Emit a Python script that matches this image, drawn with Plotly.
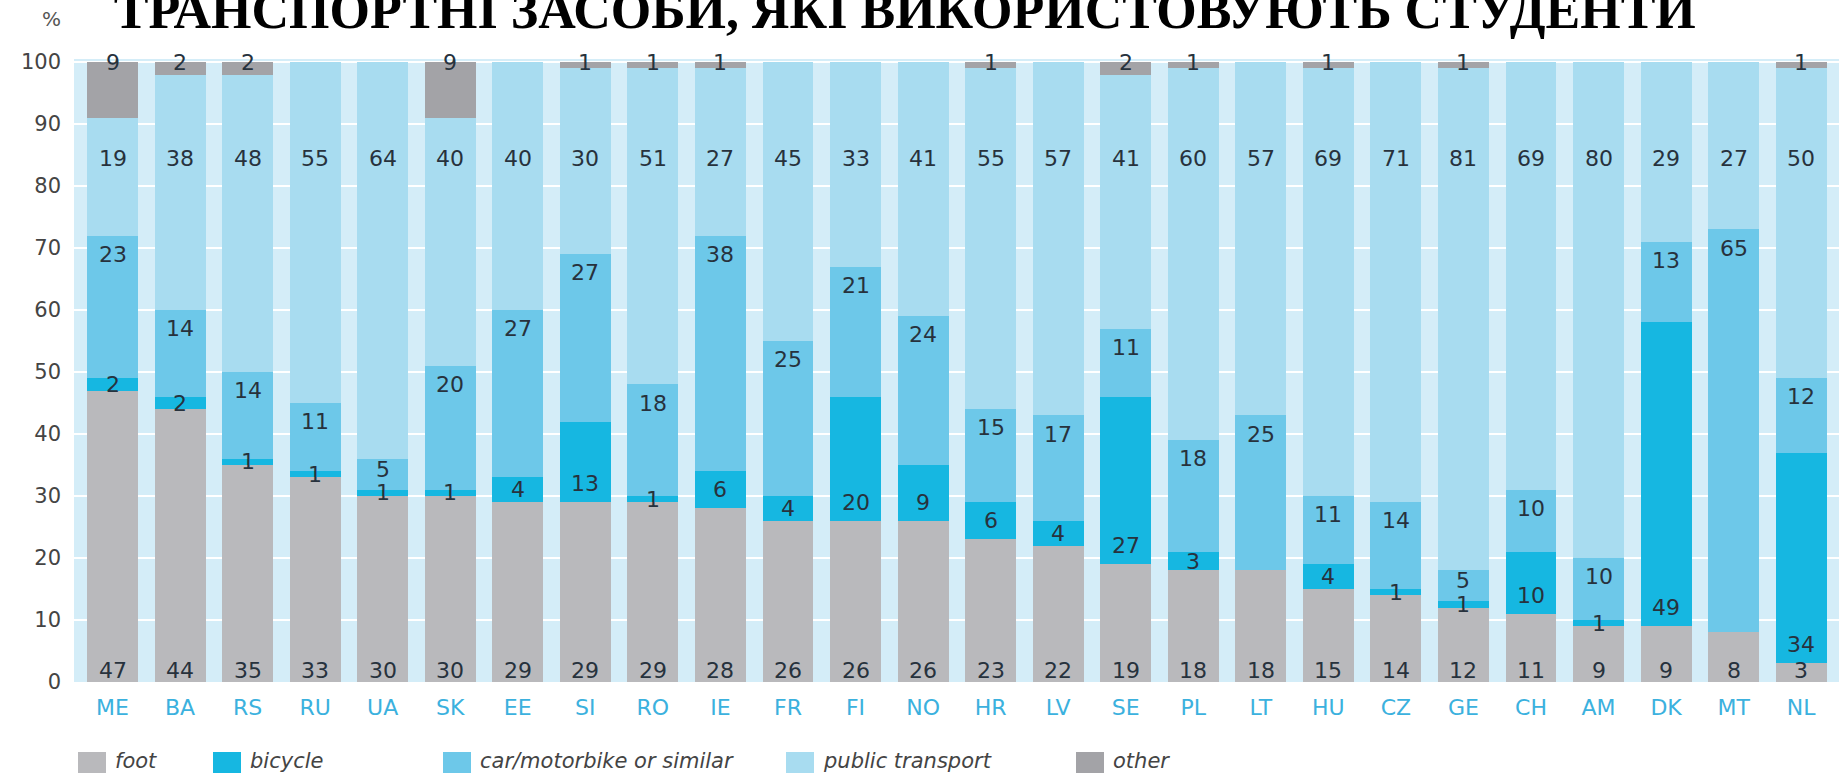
import plotly.graph_objects as go

countries = ["ME", "BA", "RS", "RU", "UA", "SK", "EE", "SI", "RO", "IE", "FR", "FI", "NO",
             "HR", "LV", "SE", "PL", "LT", "HU", "CZ", "GE", "CH", "AM", "DK", "MT", "NL"]
foot = [47, 44, 35, 33, 30, 30, 29, 29, 29, 28, 26, 26, 26, 23, 22, 19, 18, 18, 15, 14, 12, 11, 9, 9, 8, 3]
bicycle = [2, 2, 1, 1, 1, 1, 4, 13, 1, 6, 4, 20, 9, 6, 4, 27, 3, 0, 4, 1, 1, 10, 1, 49, 0, 34]
car = [23, 14, 14, 11, 5, 20, 27, 27, 18, 38, 25, 21, 24, 15, 17, 11, 18, 25, 11, 14, 5, 10, 10, 13, 65, 12]
public = [19, 38, 48, 55, 64, 40, 40, 30, 51, 27, 45, 33, 41, 55, 57, 41, 60, 57, 69, 71, 81, 69, 80, 29, 27, 50]
other = [9, 2, 2, 0, 0, 9, 0, 1, 1, 1, 0, 0, 0, 1, 0, 2, 1, 0, 1, 0, 1, 0, 0, 0, 0, 1]

series_names = ["foot", "bicycle", "car/motorbike or similar", "public transport", "other"]
y_ticks = [0, 10, 20, 30, 40, 50, 60, 70, 80, 90, 100]
title_text = "ТРАНСПОРТНІ ЗАСОБИ, ЯКІ ВИКОРИСТОВУЮТЬ СТУДЕНТИ"

colors = ["#b9b9bc", "#16b7e1", "#6dc8e9", "#a8dcf0", "#a3a3a7"]
BG = "#d4edf8"
LABEL_COLOR = "#27323d"
SANS = "DejaVu Sans, Liberation Sans, sans-serif"

W, H = 1839, 776
PL, PR, PT, PB = 74, 1839, 59, 682

def px_to_paper_x(px):
    return (px - PL) / (PR - PL)

def px_to_paper_y(py):
    return (PB - py) / (PB - PT)

fig = go.Figure()
for name, vals, col in zip(series_names, [foot, bicycle, car, public, other], colors):
    fig.add_trace(go.Bar(x=countries, y=vals, name=name, marker=dict(color=col, line=dict(width=0)),
                         showlegend=False))

annotations = []
lab_font = dict(family=SANS, size=22, color=LABEL_COLOR)

def add_label(x, y, v):
    annotations.append(dict(x=x, y=y, xref="x", yref="y", text=str(v), showarrow=False,
                            font=lab_font, xanchor="center", yanchor="middle"))

for i, c in enumerate(countries):
    f, b, ca, p, o = foot[i], bicycle[i], car[i], public[i], other[i]
    add_label(c, 1.9, f)
    if b > 0:
        add_label(c, f + min(b / 2.0, 3.0), b)
    if ca > 0:
        top = f + b + ca
        add_label(c, top - (3.0 if ca >= 8 else 1.7), ca)
    if p > 0:
        add_label(c, 84.5, p)
    if o > 0:
        add_label(c, 100, o)

# "%" unit label
annotations.append(dict(x=px_to_paper_x(51), y=px_to_paper_y(19), xref="paper", yref="paper",
                        text="%", showarrow=False, xanchor="center", yanchor="middle",
                        font=dict(family=SANS, size=20, color="#555555")))

# legend (drawn manually to get the large swatches)
shapes = []
leg_x = [78, 213, 443, 786, 1076]
for name, col, lx in zip(series_names, colors, leg_x):
    shapes.append(dict(type="rect", xref="paper", yref="paper",
                       x0=px_to_paper_x(lx), x1=px_to_paper_x(lx + 28),
                       y0=px_to_paper_y(773), y1=px_to_paper_y(752),
                       fillcolor=col, line=dict(width=0)))
    annotations.append(dict(x=px_to_paper_x(lx + 35), y=px_to_paper_y(761), xref="paper", yref="paper",
                            text="<i>" + name + "</i>", showarrow=False, xanchor="left", yanchor="middle",
                            font=dict(family=SANS, size=21, color="#444444")))

fig.update_layout(
    width=W, height=H,
    margin=dict(l=PL, r=W - PR, t=PT, b=H - PB, pad=0),
    barmode="stack", bargap=0.246,
    plot_bgcolor=BG, paper_bgcolor="white",
    title=dict(text="<b>" + title_text + "</b>", x=0.492, xanchor="center", xref="container",
               y=1 - 28 / H, yref="container", yanchor="bottom",
               font=dict(family="Liberation Serif, Times New Roman, serif", size=52, color="black")),
    annotations=annotations, shapes=shapes,
    xaxis=dict(type="category", range=[-0.57, 25.56], showgrid=False, zeroline=False,
               tickfont=dict(family=SANS, size=22, color="#3bb1de"), ticks="", ticklabelstandoff=10),
    yaxis=dict(range=[0, 100.5], tickvals=y_ticks, showgrid=True, gridcolor="white", gridwidth=2,
               zeroline=False, tickfont=dict(family=SANS, size=21, color="#444444"),
               ticks="", ticklabelstandoff=12),
)

fig.write_html("out.html", config={"displayModeBar": False},
               post_script="document.body.style.margin='0';document.body.style.overflow='hidden';")
